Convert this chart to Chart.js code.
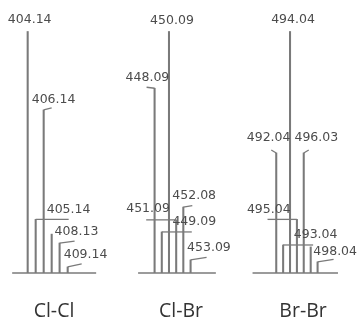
<!DOCTYPE html>
<html><head><meta charset="utf-8">
<script src="https://cdn.jsdelivr.net/npm/chart.js@4/dist/chart.umd.min.js"></script>
<style>html,body{margin:0;padding:0;background:#fff;}#wrap{width:359px;height:324px;position:relative}</style>
</head><body><div id="wrap"><canvas id="c"></canvas></div>
<script>
// ---- data ----
const groups = ['Cl-Cl', 'Cl-Br', 'Br-Br'];
const massClCl = [404.14, 405.14, 406.14, 407.14, 408.13, 409.14];
const intClCl  = [100, 22.2, 67.5, 16.1, 12.4, 2.5];
const lblClCl  = ['404.14', '405.14', '406.14', '', '408.13', '409.14'];
const massClBr = [448.09, 449.09, 450.09, 451.09, 452.08, 453.09];
const intClBr  = [76.5, 17, 100, 22, 27.3, 5.4];
const lblClBr  = ['448.09', '449.09', '450.09', '451.09', '452.08', '453.09'];
const massBrBr = [492.04, 493.04, 494.04, 495.04, 496.03, 497.04, 498.04];
const intBrBr  = [49.7, 11.6, 100, 22.2, 49.7, 10.8, 4.6];
const lblBrBr  = ['492.04', '493.04', '494.04', '495.04', '496.03', '', '498.04'];
const baseClCl = [402.2, 412.7];
const baseClBr = [445.8, 456.6];
const baseBrBr = [488.6, 501.0];
const groupCenter = [407.43, 451.76, 495.93];

// ---- layout (pixel offsets of leaders / labels, not data) ----
// [leaderDx, leaderDy, labelDx, labelDy, align]
const layoutClCl = [[0,0,2,-12,'center'],[33,0,11,-10,'left'],[8,-2,-12,-10,'left'],null,[15,-2,-5,-11,'left'],[14,-3,-4,-12,'left']];
const layoutClBr = [[-8,-1,-29,-10,'left'],[30,0,10.6,-10,'left'],[0,0,3,-11,'center'],[-30,0,-50,-11,'left'],[9,-1.5,-11,-11,'left'],[16,-2.5,-3.5,-12,'left']];
const layoutBrBr = [[-5,-3,-29.5,-15,'left'],[30,0,10.6,-10.5,'left'],[0,0,3,-12,'center'],[-29.4,0,-50,-10,'left'],[5,-3,-9.3,-15,'left'],null,[16,-2.5,-4.3,-10,'left']];

const panels = [
  {axis:'x1', mass:massClCl, inten:intClCl, lbl:lblClCl, base:baseClCl, lay:layoutClCl},
  {axis:'x2', mass:massClBr, inten:intClBr, lbl:lblClBr, base:baseClBr, lay:layoutClBr},
  {axis:'x3', mass:massBrBr, inten:intBrBr, lbl:lblBrBr, base:baseBrBr, lay:layoutBrBr}
];

const STICK = '#7a7a7a';
const datasets = [];
panels.forEach(p => {
  datasets.push({type:'bar', xAxisID:p.axis, yAxisID:'y', data:p.mass.map((m,i)=>({x:m,y:p.inten[i]})),
    backgroundColor:STICK, borderWidth:0, barThickness:1.4, grouped:false});
  datasets.push({type:'line', xAxisID:p.axis, yAxisID:'y', data:p.base.map(m=>({x:m,y:0})),
    borderColor:STICK, borderWidth:1.4, pointRadius:0, clip:false, fill:false});
});

const labelPlugin = {
  id:'labels',
  afterDatasetsDraw(chart){
    const ctx = chart.ctx, ys = chart.scales.y;
    ctx.save();
    panels.forEach((p,pi) => {
      const xs = chart.scales[p.axis];
      ctx.strokeStyle = STICK; ctx.lineWidth = 1.3;
      ctx.font = '12.5px "DejaVu Sans"'; ctx.fillStyle = '#4c4c4c'; ctx.textBaseline = 'middle';
      p.mass.forEach((m,i) => {
        const L = p.lay[i]; if (!L || !p.lbl[i]) return;
        const px = xs.getPixelForValue(m), py = ys.getPixelForValue(p.inten[i]);
        if (L[0] || L[1]) { ctx.beginPath(); ctx.moveTo(px, py); ctx.lineTo(px+L[0], py+L[1]); ctx.stroke(); }
        ctx.textAlign = L[4];
        ctx.fillText(p.lbl[i], px+L[2], py+L[3]);
      });
      ctx.font = '19.5px "Open Sans"'; ctx.fillStyle = '#333'; ctx.textAlign = 'center';
      ctx.fillText(groups[pi], xs.getPixelForValue(groupCenter[pi]), 311);
    });
    ctx.restore();
  }
};

new Chart(document.getElementById('c'), {
  type:'bar',
  data:{datasets},
  options:{
    responsive:true, maintainAspectRatio:false, animation:false,
    layout:{padding:{left:0,right:0,top:0,bottom:51}},
    plugins:{legend:{display:false}, tooltip:{enabled:false}},
    scales:{
      x1:{type:'linear', offset:false, min:400.68, max:445.555, display:false},
      x2:{type:'linear', offset:false, min:426.62, max:476.48, display:false},
      x3:{type:'linear', offset:false, min:451.95, max:504.05, display:false},
      y:{type:'linear', min:0, max:113.04, display:false}
    }
  },
  plugins:[labelPlugin]
});
</script></body></html>
